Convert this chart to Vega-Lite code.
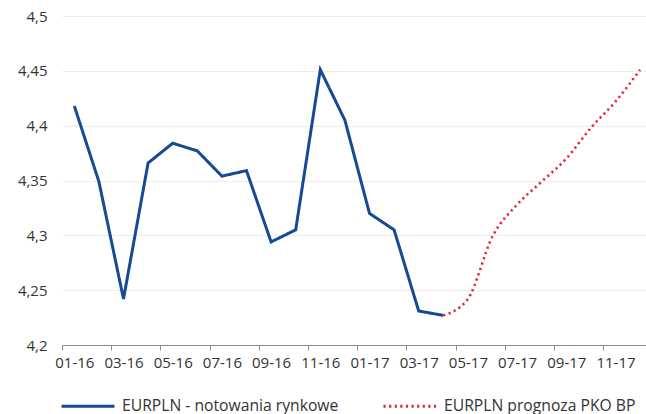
{
  "$schema": "https://vega.github.io/schema/vega-lite/v6.json",
  "width": 584,
  "height": 329,
  "autosize": {"type": "none"},
  "padding": {"left": 62, "top": 16, "right": 0, "bottom": 69},
  "background": "white",
  "config": {
    "font": "Open Sans",
    "view": {"stroke": null}
  },
  "data": {
    "values": [
      {"i": 0, "miesiac": "01-16", "kurs": 4.418, "seria": "EURPLN - notowania rynkowe"},
      {"i": 1, "miesiac": "02-16", "kurs": 4.349, "seria": "EURPLN - notowania rynkowe"},
      {"i": 2, "miesiac": "03-16", "kurs": 4.242, "seria": "EURPLN - notowania rynkowe"},
      {"i": 3, "miesiac": "04-16", "kurs": 4.366, "seria": "EURPLN - notowania rynkowe"},
      {"i": 4, "miesiac": "05-16", "kurs": 4.384, "seria": "EURPLN - notowania rynkowe"},
      {"i": 5, "miesiac": "06-16", "kurs": 4.377, "seria": "EURPLN - notowania rynkowe"},
      {"i": 6, "miesiac": "07-16", "kurs": 4.354, "seria": "EURPLN - notowania rynkowe"},
      {"i": 7, "miesiac": "08-16", "kurs": 4.359, "seria": "EURPLN - notowania rynkowe"},
      {"i": 8, "miesiac": "09-16", "kurs": 4.294, "seria": "EURPLN - notowania rynkowe"},
      {"i": 9, "miesiac": "10-16", "kurs": 4.305, "seria": "EURPLN - notowania rynkowe"},
      {"i": 10, "miesiac": "11-16", "kurs": 4.451, "seria": "EURPLN - notowania rynkowe"},
      {"i": 11, "miesiac": "12-16", "kurs": 4.405, "seria": "EURPLN - notowania rynkowe"},
      {"i": 12, "miesiac": "01-17", "kurs": 4.320, "seria": "EURPLN - notowania rynkowe"},
      {"i": 13, "miesiac": "02-17", "kurs": 4.305, "seria": "EURPLN - notowania rynkowe"},
      {"i": 14, "miesiac": "03-17", "kurs": 4.231, "seria": "EURPLN - notowania rynkowe"},
      {"i": 15, "miesiac": "04-17", "kurs": 4.227, "seria": "EURPLN - notowania rynkowe"},
      {"i": 15, "miesiac": "04-17", "kurs": 4.227, "seria": "EURPLN prognoza PKO BP"},
      {"i": 16, "miesiac": "05-17", "kurs": 4.242, "seria": "EURPLN prognoza PKO BP"},
      {"i": 17, "miesiac": "06-17", "kurs": 4.299, "seria": "EURPLN prognoza PKO BP"},
      {"i": 18, "miesiac": "07-17", "kurs": 4.328, "seria": "EURPLN prognoza PKO BP"},
      {"i": 19, "miesiac": "08-17", "kurs": 4.349, "seria": "EURPLN prognoza PKO BP"},
      {"i": 20, "miesiac": "09-17", "kurs": 4.370, "seria": "EURPLN prognoza PKO BP"},
      {"i": 21, "miesiac": "10-17", "kurs": 4.398, "seria": "EURPLN prognoza PKO BP"},
      {"i": 22, "miesiac": "11-17", "kurs": 4.422, "seria": "EURPLN prognoza PKO BP"},
      {"i": 23, "miesiac": "12-17", "kurs": 4.451, "seria": "EURPLN prognoza PKO BP"}
    ]
  },
  "encoding": {
    "x": {
      "field": "i",
      "type": "quantitative",
      "scale": {"domain": [-0.5, 23.24], "nice": false, "zero": false},
      "axis": {
        "title": null,
        "values": [-0.5, 1.5, 3.5, 5.5, 7.5, 9.5, 11.5, 13.5, 15.5, 17.5, 19.5, 21.5],
        "labelExpr": "((((datum.value + 0.5) % 12) + 1) < 10 ? '0' : '') + (((datum.value + 0.5) % 12) + 1) + '-' + (16 + floor((datum.value + 0.5) / 12))",
        "labelOffset": 12.3,
        "labelFlush": false,
        "labelOverlap": false,
        "labelBound": false,
        "labelPadding": 5,
        "labelFontSize": 15,
        "labelColor": "#333333",
        "tickSize": 5,
        "tickColor": "#8c8c8c",
        "domainColor": "#8c8c8c",
        "grid": false
      }
    },
    "y": {
      "field": "kurs",
      "type": "quantitative",
      "scale": {"domain": [4.2, 4.5], "nice": false, "zero": false},
      "axis": {
        "title": null,
        "values": [4.2, 4.25, 4.3, 4.35, 4.4, 4.45, 4.5],
        "labelExpr": "replace(format(datum.value, '.2~f'), '.', ',')",
        "ticks": false,
        "domain": false,
        "grid": true,
        "gridColor": "#ededed",
        "labelPadding": 15,
        "labelFontSize": 15,
        "labelColor": "#333333"
      }
    },
    "color": {
      "field": "seria",
      "type": "nominal",
      "scale": {
        "domain": ["EURPLN - notowania rynkowe", "EURPLN prognoza PKO BP"],
        "range": ["#174a94", "#e3283a"]
      },
      "legend": {
        "title": null,
        "orient": "none",
        "legendX": -2,
        "legendY": 362,
        "direction": "horizontal",
        "symbolType": "stroke",
        "symbolSize": 2809,
        "symbolStrokeWidth": 3,
        "labelFontSize": 15.7,
        "labelColor": "#333333",
        "labelOffset": 6,
        "labelLimit": 400,
        "columnPadding": 38
      }
    },
    "strokeDash": {
      "field": "seria",
      "type": "nominal",
      "scale": {
        "domain": ["EURPLN - notowania rynkowe", "EURPLN prognoza PKO BP"],
        "range": [[1, 0], [2.2, 3.4]]
      }
    }
  },
  "layer": [
    {
      "transform": [{"filter": "datum.seria === 'EURPLN - notowania rynkowe'"}],
      "mark": {"type": "line", "strokeWidth": 3, "strokeJoin": "miter"}
    },
    {
      "transform": [{"filter": "datum.seria === 'EURPLN prognoza PKO BP'"}],
      "mark": {"type": "line", "strokeWidth": 2.6, "interpolate": "monotone"}
    }
  ]
}
